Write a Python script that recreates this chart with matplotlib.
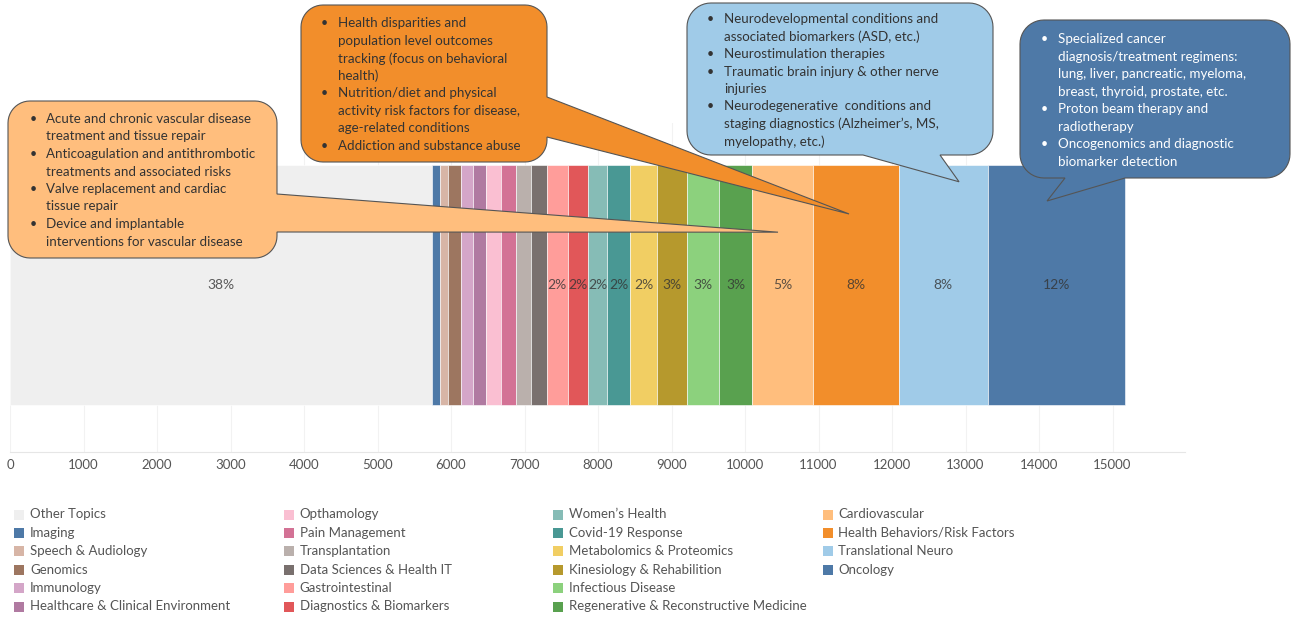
import numpy as np
import matplotlib.pyplot as plt
from matplotlib.patches import Polygon, Rectangle

plt.rcParams['font.family'] = ['Lato', 'DejaVu Sans']

# 各研究主题的数量
categories = ['Other Topics', 'Imaging', 'Speech & Audiology', 'Genomics', 'Immunology',
              'Healthcare & Clinical Environment', 'Opthamology', 'Pain Management',
              'Transplantation', 'Data Sciences & Health IT', 'Gastrointestinal',
              'Diagnostics & Biomarkers', 'Women\u2019s Health', 'Covid-19 Response',
              'Metabolomics & Proteomics', 'Kinesiology & Rehabilition', 'Infectious Disease',
              'Regenerative & Reconstructive Medicine', 'Cardiovascular',
              'Health Behaviors/Risk Factors', 'Translational Neuro', 'Oncology']
values = [5740, 110, 115, 170, 160, 180, 200, 205, 213, 213, 282, 272, 267, 308,
          372, 408, 435, 449, 822, 1174, 1207, 1868]
colors = ['#efefef', '#4e79a7', '#d7b5a6', '#9d7660', '#d4a6c8', '#b07aa1', '#fabfd2',
          '#d37295', '#bab0ac', '#79706e', '#ff9d9a', '#e15759', '#86bcb6', '#499894',
          '#f1ce63', '#b6992d', '#8cd17d', '#59a14f', '#ffbe7d', '#f28e2b', '#a0cbe8',
          '#4e79a7']
xticks = list(range(0, 16000, 1000))

# 注释框内容
notes_cardio = [["Acute and chronic vascular disease", "treatment and tissue repair"],
                ["Anticoagulation and antithrombotic", "treatments and associated risks"],
                ["Valve replacement and cardiac", "tissue repair"],
                ["Device and implantable", "interventions for vascular disease"]]
notes_behav = [["Health disparities and", "population level outcomes",
                "tracking (focus on behavioral", "health)"],
               ["Nutrition/diet and physical", "activity risk factors for disease,",
                "age-related conditions"],
               ["Addiction and substance abuse"]]
notes_neuro = [["Neurodevelopmental conditions and", "associated biomarkers (ASD, etc.)"],
               ["Neurostimulation therapies"],
               ["Traumatic brain injury & other nerve", "injuries"],
               ["Neurodegenerative  conditions and", "staging diagnostics (Alzheimer\u2019s, MS,",
                "myelopathy, etc.)"]]
notes_onco = [["Specialized cancer", "diagnosis/treatment regimens:",
               "lung, liver, pancreatic, myeloma,", "breast, thyroid, prostate, etc."],
              ["Proton beam therapy and", "radiotherapy"],
              ["Oncogenomics and diagnostic", "biomarker detection"]]

W, H = 1291, 618
fig = plt.figure(figsize=(W / 100, H / 100), dpi=100)

# 主图
ax = fig.add_axes([10 / W, 1 - 452 / H, 1175 / W, 329 / H])
lefts = np.concatenate([[0], np.cumsum(values)[:-1]])
ax.barh(0, values, left=lefts, height=1, color=colors, edgecolor='white', linewidth=0.4, zorder=2)
total = sum(values)
for l, v in zip(lefts, values):
    pct = round(v / total * 100)
    if pct >= 2:
        ax.text(l + v / 2, 0, f'{pct}%', ha='center', va='center', fontsize=10,
                color='#333333', alpha=0.8, zorder=3)
ax.set_xlim(0, 15986)
ax.set_ylim(-0.696, 0.675)
ax.set_xticks(xticks)
ax.set_xticklabels([str(t) for t in xticks])
ax.set_yticks([])
ax.tick_params(axis='x', length=0, pad=5, labelsize=9.5, labelcolor='#555555')
ax.grid(axis='x', color='#f2f2f2', linewidth=0.8, zorder=0)
for s in ['top', 'right', 'left']:
    ax.spines[s].set_visible(False)
ax.spines['bottom'].set_color('#e6e6e6')

# 覆盖层，像素坐标
ov = fig.add_axes([0, 0, 1, 1], zorder=5)
ov.set_xlim(0, W)
ov.set_ylim(H, 0)
ov.axis('off')
ov.patch.set_alpha(0)


def to_px(x, y):
    d = ax.transData.transform((x, y))
    return ov.transData.inverted().transform(d)


def bubble(box, r, side, a, b, tip, face, notes, tcolor, bx, tx, y0):
    x0, y0b, x1, y1 = box
    pts = []

    def arc(cx, cy, t0, t1):
        t = np.radians(np.linspace(t0, t1, 12))
        return list(zip(cx + r * np.cos(t), cy + r * np.sin(t)))

    tp = tuple(to_px(*tip))
    pts += arc(x0 + r, y0b + r, 180, 270)
    pts += arc(x1 - r, y0b + r, 270, 360)
    if side == 'right':
        pts += [(x1, a), tp, (x1, b)]
    pts += arc(x1 - r, y1 - r, 0, 90)
    if side == 'bottom':
        pts += [(b, y1), tp, (a, y1)]
    pts += arc(x0 + r, y1 - r, 90, 180)
    ov.add_patch(Polygon(pts, closed=True, facecolor=face, edgecolor='#555555', linewidth=0.8))
    y = y0
    for item in notes:
        ov.text(bx, y, '\u2022', ha='left', va='center', fontsize=9, color=tcolor)
        for line in item:
            ov.text(tx, y, line, ha='left', va='center', fontsize=9.6, color=tcolor)
            y += 17.5


bubble((8, 101, 277, 258), 22, 'right', 194, 232, (10449, 0.22), '#ffbe7d', notes_cardio,
       '#333333', 30, 46, 119)
bubble((301, 5, 547, 162), 22, 'right', 97, 137, (11415, 0.296), '#f28e2b', notes_behav,
       '#333333', 321, 338, 23.3)
bubble((687, 3, 993, 155), 24, 'bottom', 863, 940, (12912, 0.43), '#a0cbe8', notes_neuro,
       '#333333', 707, 724, 19)
bubble((1020, 20, 1290, 178), 24, 'bottom', 1065, 1125, (14109, 0.35), '#4e79a7', notes_onco,
       'white', 1041, 1058, 39.3)

# 图例
for i, (c, col) in enumerate(zip(categories, colors)):
    cx = 14 + (i // 6) * 269.5
    cy = 514.5 + (i % 6) * 18.4
    ov.add_patch(Rectangle((cx, cy - 5), 10, 10, facecolor=col, edgecolor='none'))
    ov.text(cx + 16, cy, c, ha='left', va='center', fontsize=9.5, color='#555555')

fig.savefig('out.png', dpi=100)
